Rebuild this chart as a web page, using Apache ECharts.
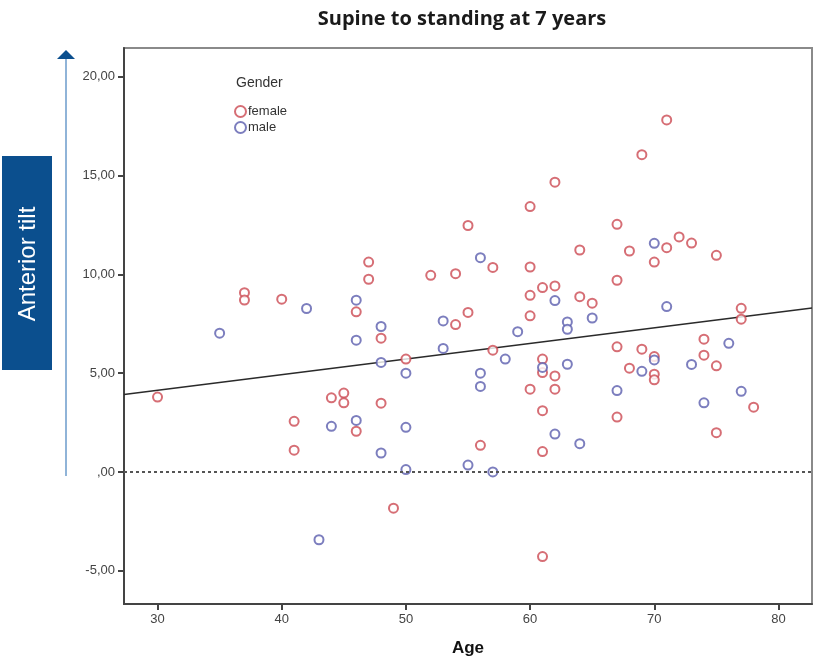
<!DOCTYPE html>
<html><head><meta charset="utf-8">
<script src="https://cdn.jsdelivr.net/npm/echarts@6/dist/echarts.min.js"></script>
<style>html,body{margin:0;padding:0;background:#fff}#c{width:815px;height:662px}</style>
</head><body><div id="c"></div>
<script>
// Female points: [age, anterior tilt]
const femaleAge = [30,37,37,40,41,41,44,45,45,46,46,47,47,48,48,49,50,52,54,54,55,55,56,57,57,60,60,60,60,60,61,61,61,61,61,61,62,62,62,62,64,64,65,67,67,67,67,68,68,69,69,70,70,70,70,71,71,72,73,74,74,75,75,75,77,77,78];
const femaleTilt = [3.79,9.07,8.70,8.74,2.56,1.10,3.75,3.99,3.50,8.10,2.06,10.62,9.75,6.77,3.48,-1.83,5.71,9.95,10.03,7.46,12.47,8.07,1.35,10.35,6.16,13.43,10.37,8.94,7.90,4.19,9.33,5.71,5.03,3.10,1.03,-4.28,14.66,9.41,4.86,4.19,11.23,8.87,8.54,12.53,9.70,6.33,2.78,11.18,5.25,16.05,6.21,10.62,5.84,4.95,4.66,17.81,11.35,11.89,11.58,6.72,5.91,10.96,5.37,1.99,8.28,7.73,3.28];
// Male points
const maleAge = [35,42,43,44,46,46,46,48,48,48,50,50,50,53,53,55,56,56,56,57,58,59,61,62,62,63,63,63,64,65,67,69,70,70,71,73,74,76,77];
const maleTilt = [7.02,8.27,-3.43,2.31,8.69,6.67,2.61,7.36,5.54,0.96,5.00,2.26,0.12,7.64,6.25,0.35,10.84,5.00,4.33,0.00,5.71,7.10,5.29,8.67,1.92,7.59,7.22,5.45,1.43,7.79,4.12,5.09,11.57,5.67,8.37,5.44,3.50,6.51,4.08];
// Fit line (total)
const fitIntercept = 1.76;
const fitSlope = 0.0791;
// Ticks
const xTicks = [30,40,50,60,70,80];
const yTicks = [-5,0,5,10,15,20];
const xMin = 27.3, xMax = 82.7, yMin = -6.68, yMax = 21.45;

const female = femaleAge.map((a,i)=>[a,femaleTilt[i]]);
const male = maleAge.map((a,i)=>[a,maleTilt[i]]);
const fit = [[xMin, fitIntercept+fitSlope*xMin],[xMax, fitIntercept+fitSlope*xMax]];

const fmt = v => { if (v===0) return ',00'; return v.toFixed(2).replace('.', ','); };

const chart = echarts.init(document.getElementById('c'));
chart.setOption({
  animation:false,
  title:{text:'Supine to standing at 7 years', left:457, top:4, textAlign:'center',
    textStyle:{fontFamily:'Open Sans', fontWeight:'bold', fontSize:20, color:'#1a1a1a'}},
  legend:{orient:'vertical', left:229, top:100, itemGap:3, itemWidth:11, itemHeight:11,
    data:[{name:'female', icon:'emptyCircle'},{name:'male', icon:'emptyCircle'}],
    textStyle:{fontFamily:'Liberation Sans', fontSize:13, color:'#333', padding:[0,0,0,-3]},
    itemStyle:{borderWidth:1.6}},
  grid:{left:124, top:48, right:3, bottom:57, show:true, borderColor:'#8a8a8a', borderWidth:2, backgroundColor:'#fff'},
  xAxis:{type:'value', min:xMin, max:xMax, splitLine:{show:false},
    name:'Age', nameLocation:'middle', nameGap:36,
    nameTextStyle:{fontFamily:'Liberation Sans', fontWeight:'bold', fontSize:17, color:'#111'},
    axisLine:{onZero:false, lineStyle:{color:'#444', width:2}},
    axisTick:{customValues:xTicks, length:6, lineStyle:{color:'#444', width:2}},
    axisLabel:{customValues:xTicks, margin:9, fontFamily:'Liberation Sans', fontSize:13, color:'#444'}},
  yAxis:{type:'value', min:yMin, max:yMax, splitLine:{show:false},
    axisLine:{onZero:false, lineStyle:{color:'#444', width:2}},
    axisTick:{customValues:yTicks, length:6, lineStyle:{color:'#444', width:2}},
    axisLabel:{customValues:yTicks, margin:9, formatter:fmt, fontFamily:'Liberation Sans', fontSize:13, color:'#444'}},
  series:[
    {name:'female', type:'scatter', data:female, symbol:'emptyCircle', symbolSize:9,
      itemStyle:{color:'#cc4a52', borderWidth:1.6}, z:3},
    {name:'male', type:'scatter', data:male, symbol:'emptyCircle', symbolSize:9,
      itemStyle:{color:'#5b5eae', borderWidth:1.6}, z:3},
    {name:'fit', type:'line', data:fit, symbol:'none', silent:true,
      lineStyle:{color:'#2a2a2a', width:1.5}, z:2,
      markLine:{silent:true, symbol:'none', label:{show:false},
        lineStyle:{color:'#555', type:[3,3], width:2}, data:[{yAxis:0}]}}
  ],
  graphic:[
    {type:'text', left:236, top:76, style:{text:'Gender', fontFamily:'Liberation Sans', fontSize:14, fill:'#333'}},
    {type:'rect', shape:{x:2, y:156, width:50, height:214}, style:{fill:'#0b4f8e'}},
    {type:'text', x:28, y:264, rotation:Math.PI/2,
      style:{text:'Anterior tilt', fontFamily:'Liberation Sans', fontSize:24, fill:'#fff', align:'center', verticalAlign:'middle'}},
    {type:'line', shape:{x1:66, y1:476, x2:66, y2:58}, style:{stroke:'#6b9bcb', lineWidth:1.5}},
    {type:'polygon', shape:{points:[[57,59],[75,59],[66,50]]}, style:{fill:'#0b4f8e'}}
  ]
});
</script></body></html>
